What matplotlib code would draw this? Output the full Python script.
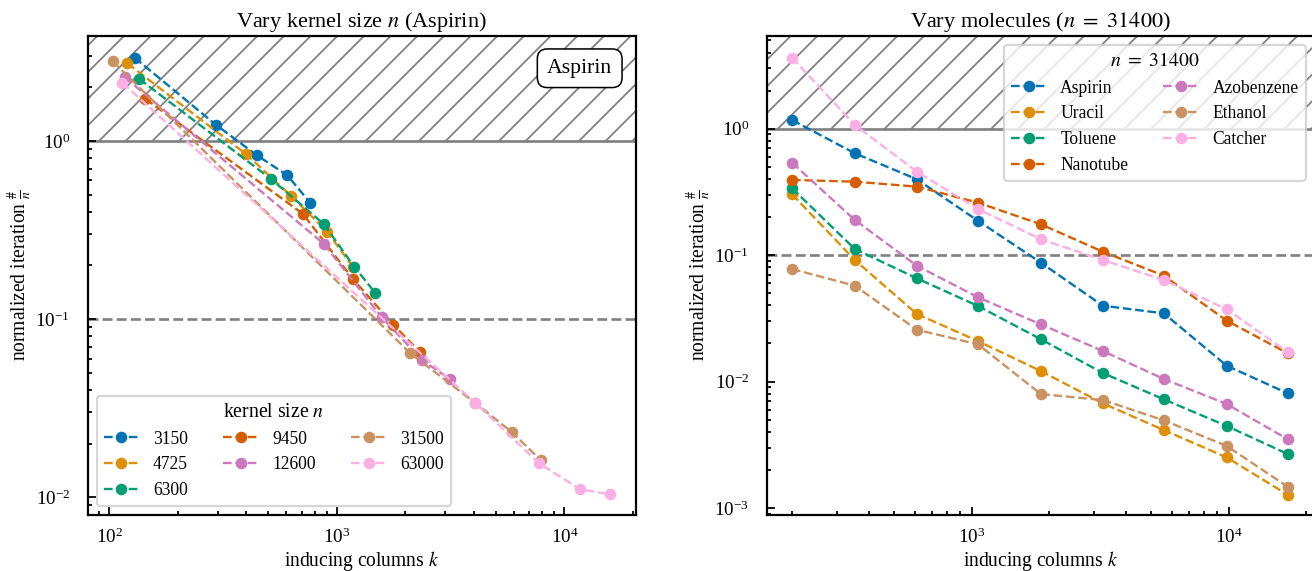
import matplotlib
matplotlib.use('Agg')
import matplotlib.pyplot as plt

plt.rcParams['font.family'] = 'serif'
plt.rcParams['font.serif'] = ['Liberation Serif', 'DejaVu Serif']
plt.rcParams['mathtext.fontset'] = 'stix'
plt.rcParams['hatch.linewidth'] = 0.8
plt.rcParams['axes.linewidth'] = 1.0

# colorblind palette
colors = ['#0173b2', '#de8f05', '#029e73', '#d55e00', '#cc78bc', '#ca9161', '#fbafe4']

# left panel: vary kernel size n (Aspirin)
kernel_sizes = [3150, 4725, 6300, 9450, 12600, 31500, 63000]
k_3150 = [129, 294, 445, 606, 762]
it_3150 = [2.93, 1.23, 0.83, 0.64, 0.45]
k_4725 = [120, 400, 630, 905, 1180]
it_4725 = [2.72, 0.84, 0.49, 0.31, 0.195]
k_6300 = [135, 514, 875, 1190, 1476]
it_6300 = [2.23, 0.61, 0.342, 0.197, 0.14]
k_9450 = [144, 708, 1175, 1771, 2323]
it_9450 = [1.72, 0.39, 0.168, 0.093, 0.065]
k_12600 = [117, 874, 1574, 2363, 3146]
it_12600 = [2.27, 0.265, 0.1025, 0.059, 0.046]
k_31500 = [103.5, 2099, 4050, 5875, 7900]
it_31500 = [2.79, 0.0644, 0.0339, 0.0232, 0.0161]
k_63000 = [114, 4058, 7740, 11730, 15890]
it_63000 = [2.12, 0.0339, 0.0155, 0.0111, 0.0104]

left_k = [k_3150, k_4725, k_6300, k_9450, k_12600, k_31500, k_63000]
left_it = [it_3150, it_4725, it_6300, it_9450, it_12600, it_31500, it_63000]

# right panel: vary molecules (n = 31400)
molecules = ['Aspirin', 'Uracil', 'Toluene', 'Nanotube', 'Azobenzene', 'Ethanol', 'Catcher']
k_mol = [200, 351, 612, 1058, 1860, 3240, 5600, 9840, 17000]
it_aspirin = [1.17, 0.639, 0.398, 0.187, 0.0871, 0.0398, 0.0346, 0.01334, 0.00806]
it_uracil = [0.303, 0.0915, 0.0342, 0.0209, 0.0121, 0.00672, 0.00413, 0.00251, 0.00127]
it_toluene = [0.338, 0.1117, 0.0655, 0.0396, 0.0216, 0.01168, 0.00723, 0.00445, 0.00267]
it_nanotube = [0.393, 0.381, 0.348, 0.260, 0.1753, 0.1064, 0.0687, 0.0303, 0.01672]
it_azobenzene = [0.538, 0.1896, 0.0824, 0.0464, 0.0283, 0.01743, 0.01047, 0.00664, 0.00349]
it_ethanol = [0.0776, 0.0573, 0.0257, 0.0197, 0.00796, 0.00714, 0.00493, 0.00309, 0.00147]
it_catcher = [3.645, 1.070, 0.457, 0.2316, 0.1334, 0.0915, 0.0635, 0.03725, 0.01712]
right_it = [it_aspirin, it_uracil, it_toluene, it_nanotube, it_azobenzene, it_ethanol, it_catcher]

fig = plt.figure(figsize=(8.2, 3.56875), dpi=160)
ax1 = fig.add_axes([0.0671, 0.0981, 0.4173, 0.8389])
ax2 = fig.add_axes([0.5846, 0.0981, 0.4173, 0.8389])

line_kw = dict(linestyle='--', marker='o', markersize=4.2, linewidth=1.05)


def decorate(ax, xlim, ylim):
    ax.set_xscale('log')
    ax.set_yscale('log')
    ax.set_xlim(*xlim)
    ax.set_ylim(*ylim)
    ax.axhspan(1, ylim[1], facecolor='none', edgecolor='gray', hatch='//', linewidth=0, zorder=0)
    ax.axhline(1, color='gray', linewidth=1.2, zorder=1)
    ax.axhline(0.1, color='gray', linestyle='--', linewidth=1.2, zorder=1)
    ax.tick_params(which='both', direction='in', labelsize=8.6, width=0.8)
    ax.tick_params(which='major', length=3.8)
    ax.tick_params(which='minor', length=2)
    ax.tick_params(axis='x', pad=5.5)
    ax.tick_params(axis='y', pad=8)
    ax.set_xlabel(r'inducing columns $k$', fontsize=8.8, labelpad=1.3)
    ax.set_ylabel(r'normalized iteration $\frac{\#}{n}$', fontsize=8.8, labelpad=0.5)


decorate(ax1, (80.5, 20540), (0.00796, 3.88))
for ks, its, n, c in zip(left_k, left_it, kernel_sizes, colors):
    ax1.plot(ks, its, color=c, label=str(n), **line_kw)
ax1.set_title(r'Vary kernel size $n$ (Aspirin)', fontsize=10, pad=4)
ax1.legend(loc='lower left', ncol=3, fontsize=7.9, title=r'kernel size $n$',
           title_fontsize=8.9, handletextpad=0.8)
ax1.text(0.898, 0.9326, 'Aspirin', transform=ax1.transAxes, ha='center', va='center',
         fontsize=9.8, bbox=dict(boxstyle='round,pad=0.45', fc='white', ec='black', lw=0.7))

decorate(ax2, (159.8, 21600), (8.8e-4, 5.41))
for its, name, c in zip(right_it, molecules, colors):
    ax2.plot(k_mol, its, color=c, label=name, **line_kw)
ax2.set_title(r'Vary molecules ($n\ =\ 31400$)', fontsize=10, pad=4)
ax2.legend(loc='upper right', ncol=2, fontsize=7.9, title=r'$n\ =\ 31400$',
           title_fontsize=8.9, handletextpad=0.8)

fig.savefig('out.png', dpi=160)
